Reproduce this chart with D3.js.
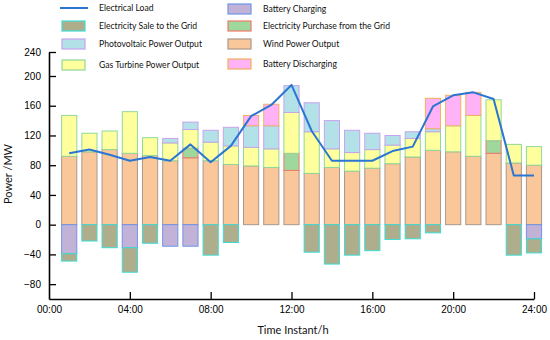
<!DOCTYPE html>
<html lang="en">
<head>
<meta charset="UTF-8">
<script src="https://d3js.org/d3.v7.min.js"></script>
<title>Power balance</title>
<style>
  body { margin: 0; background: #fff; }
  .tick text { font-family: "Liberation Sans", Arial, sans-serif; font-size: 10px; fill: #000; }
  .lab { font-family: Lato, "Open Sans", sans-serif; font-size: 8.6px; fill: #111; }
</style>
</head>
<body>
<svg id="svg1" width="550" height="340"></svg>
<script>

// values (MW), one per hour 1..24
const hours = [1,2,3,4,5,6,7,8,9,10,11,12,13,14,15,16,17,18,19,20,21,22,23,24]
const wind      = [92,98,101,96,93,86,90,86,81,79,77,73,69,77,72,76,82,91,100,98,92,96,83,80]
const purchase  = [0,0,0,0,0,0,13,0,0,0,0,23,0,0,0,0,0,0,0,0,0,17,0,0]
const gasTurb   = [55,25,25,56,24,24,25,25,25,25,25,55,56,25,25,25,25,25,25,35,55,55,25,25]
const pv        = [0,0,0,0,0,6,10,16,25,29,31,36,39,38,30,22,13,9,4,0,0,0,0,0]
const discharge = [0,0,0,0,0,0,0,0,0,14,29,0,0,0,0,0,0,0,41,41,31,0,0,0]
const charging  = [39,0,0,31,0,29,29,0,0,0,0,0,0,0,0,0,0,0,0,0,0,0,0,19]
const sale      = [10,22,31,33,25,0,0,41,24,0,0,0,37,53,41,35,20,19,11,0,0,0,41,19]
const load      = [96,101,94,86,91,86,108,84,106,146,161,188,126,86,86,86,99,105,159,174,178,169,66,66]

const xTicks = [0,4,8,12,16,20,24]
const xTickLabels = ["00:00","04:00","08:00","12:00","16:00","20:00","24:00"]
const yTicks = [-80,-40,0,40,80,120,160,200,240]

const series = {
    wind:      { name: "Wind Power Output",                  fill: "#fac79a", stroke: "#a8988c" },
    purchase:  { name: "Electricity Purchase from the Grid", fill: "#9ed89c", stroke: "#f07a6a" },
    gas:       { name: "Gas Turbine Power Output",           fill: "#ffff9e", stroke: "#8fd89a" },
    pv:        { name: "Photovoltaic Power Output",          fill: "#b2e2e8", stroke: "#c9a2ee" },
    discharge: { name: "Battery Discharging",                fill: "#ffb3f6", stroke: "#f0b060" },
    charging:  { name: "Battery Charging",                   fill: "#c3b2d8", stroke: "#6e94e6" },
    sale:      { name: "Electricity Sale to the Grid",       fill: "#afae8c", stroke: "#3cdcd4" }
}

const width = 550, height = 340
const svg = d3.select("#svg1").attr("viewBox", `0 0 ${width} ${height}`)

let x = d3.scaleLinear().domain([0, 24]).range([49, 534])
// the picture's axis is squeezed a bit between 200 and 240
let y = d3.scaleLinear().domain([-100, 200, 240]).range([299, 76, 52])

let rows = hours.map((h, i) => ({
    hour: h,
    wind: wind[i], purchase: purchase[i], gas: gasTurb[i], pv: pv[i], discharge: discharge[i],
    charging: -charging[i], sale: -sale[i]
}))

let stack = d3.stack()
    .keys(["wind", "purchase", "gas", "pv", "discharge", "charging", "sale"])
    .offset(d3.stackOffsetDiverging)
let stacked = stack(rows)

let bw = (x(1) - x(0)) * 0.8

let layers = svg.append("g").selectAll("g")
    .data(stacked)
    .enter()
    .append("g")
    .attr("fill", d => series[d.key].fill)
    .attr("stroke", d => series[d.key].stroke)
    .attr("stroke-width", 1)

layers.selectAll("rect")
    .data(d => d.filter(p => p[1] !== p[0]))
    .enter()
    .append("rect")
    .attr("x", d => x(d.data.hour) - bw / 2 + 0.5)
    .attr("width", bw - 1)
    .attr("y", d => y(Math.max(d[0], d[1])))
    .attr("height", d => Math.abs(y(d[0]) - y(d[1])))

// load line
let line = d3.line().x((d, i) => x(hours[i])).y(d => y(d))
svg.append("path")
    .datum(load)
    .attr("fill", "none")
    .attr("stroke", "#2b76d2")
    .attr("stroke-width", 2)
    .attr("stroke-linejoin", "round")
    .attr("d", line)

// axes
let yAxis = svg.append("g")
    .attr("transform", `translate(${x(0)},0)`)
    .call(d3.axisLeft(y).tickValues(yTicks).tickSizeInner(-7).tickSizeOuter(0).tickPadding(8)
        .tickFormat(d => d < 0 ? "\u2212" + Math.abs(d) : d))
yAxis.select(".domain").attr("stroke", "#000").attr("stroke-width", 1.6)
yAxis.selectAll(".tick line").attr("stroke-width", 1.3)

let xAxis = svg.append("g")
    .attr("transform", `translate(0,${y(-100)})`)
    .call(d3.axisBottom(x).tickValues(xTicks).tickSizeInner(-7).tickSizeOuter(0).tickPadding(7)
        .tickFormat((d, i) => xTickLabels[i]))
xAxis.select(".domain").attr("stroke", "#000").attr("stroke-width", 1.6)
xAxis.selectAll(".tick line").attr("stroke-width", 1.3)
xAxis.selectAll(".tick").filter(d => d === 0).select("line").remove()

svg.append("text")
    .attr("class", "lab")
    .style("font-size", "11px")
    .attr("x", 293).attr("y", 334)
    .attr("text-anchor", "middle")
    .text("Time Instant/h")

svg.append("text")
    .attr("class", "lab")
    .style("font-size", "11px")
    .attr("transform", "translate(12,174) rotate(-90)")
    .attr("text-anchor", "middle")
    .text("Power /MW")

// legend
const legendLeft = [
    { key: "line", y: 8 }, { key: "sale", y: 26 }, { key: "pv", y: 44 }, { key: "gas", y: 65 }
]
const legendRight = [
    { key: "charging", y: 9 }, { key: "purchase", y: 26 }, { key: "wind", y: 44 }, { key: "discharge", y: 64 }
]

function drawLegend(items, sx, tx) {
    let g = svg.append("g")
    items.forEach(it => {
        if (it.key === "line") {
            g.append("line")
                .attr("x1", sx - 2).attr("x2", sx + 26)
                .attr("y1", it.y).attr("y2", it.y)
                .attr("stroke", "#2b76d2").attr("stroke-width", 2)
        } else {
            g.append("rect")
                .attr("x", sx).attr("y", it.y - 5)
                .attr("width", 23).attr("height", 10)
                .attr("fill", series[it.key].fill)
                .attr("stroke", series[it.key].stroke)
                .attr("stroke-width", 1.2)
        }
        g.append("text")
            .attr("class", "lab")
            .attr("x", tx).attr("y", it.y)
            .attr("dy", "0.35em")
            .text(it.key === "line" ? "Electrical Load" : series[it.key].name)
    })
}
drawLegend(legendLeft, 62, 99)
drawLegend(legendRight, 228, 263)

</script>
</body>
</html>
